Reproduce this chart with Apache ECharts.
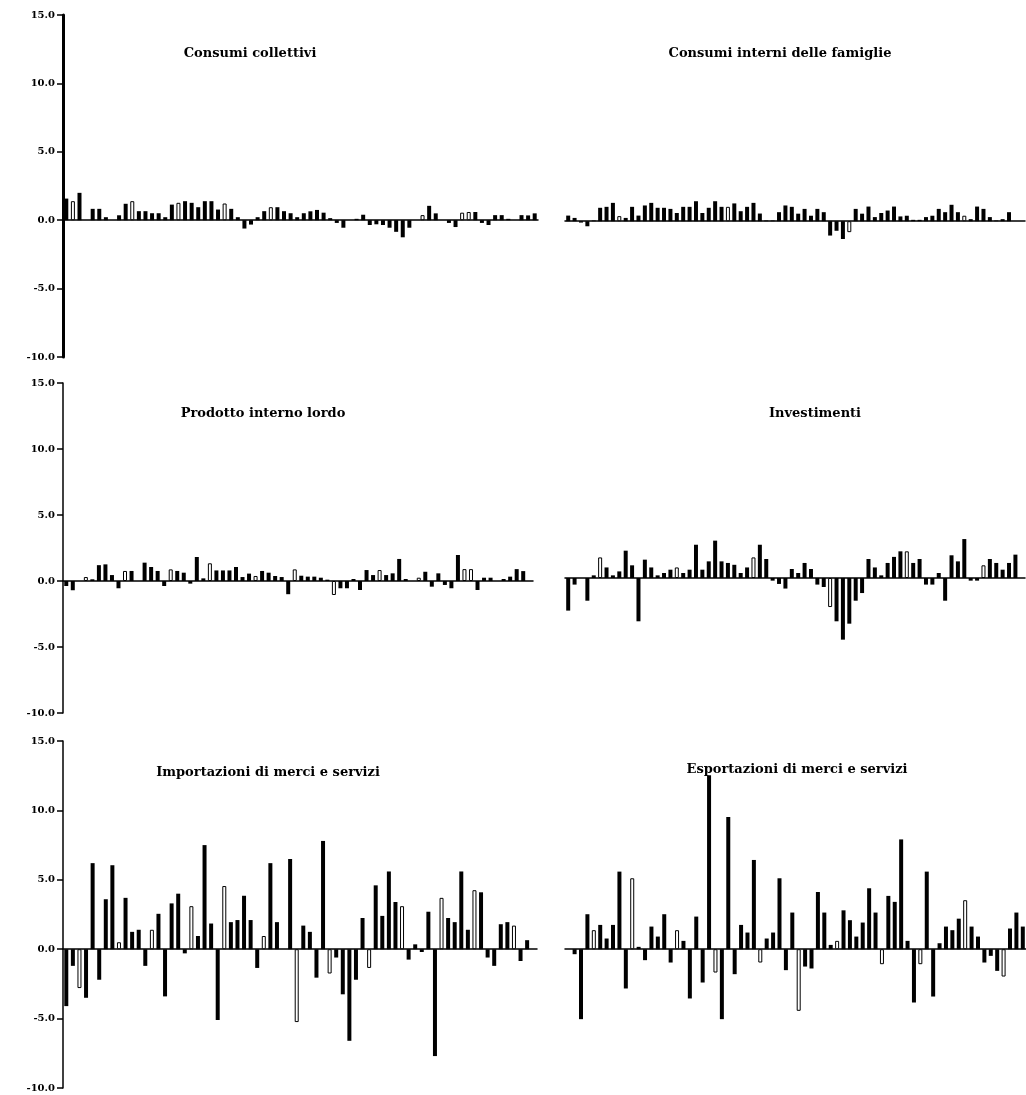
<!DOCTYPE html>
<html><head><meta charset="utf-8">
<script src="https://cdn.jsdelivr.net/npm/echarts@6/dist/echarts.min.js"></script>
<style>html,body{margin:0;padding:0;background:#fff}#c{width:1026px;height:1095px}</style>
</head><body><div id="c"></div>
<script>
// 72 quarterly periods
const quarters = ['T1','T2','T3','T4'];
const categories = [];
for (let y = 0; y < 18; y++) for (let q = 0; q < 4; q++) categories.push((1982 + y) + ' ' + quarters[q]);

const yTickLabels = {'-10': '-10.0', '-5': '-5.0', '0': '0.0', '5': '5.0', '10': '10.0', '15': '15.0'};

const titleCollettivi = 'Consumi collettivi';
const titleFamiglie = 'Consumi interni delle famiglie';
const titlePil = 'Prodotto interno lordo';
const titleInvestimenti = 'Investimenti';
const titleImport = 'Importazioni di merci e servizi';
const titleExport = 'Esportazioni di merci e servizi';

const consumiCollettivi = [1.58,1.39,2.0,0,0.83,0.83,0.22,0,0.36,1.2,
  1.39,0.66,0.66,0.51,0.51,0.22,1.14,1.27,1.39,1.27,
  0.95,1.39,1.39,0.78,1.22,0.83,0.22,-0.61,-0.32,0.22,
  0.66,0.95,0.95,0.66,0.51,0.22,0.51,0.65,0.75,0.55,
  0.15,-0.2,-0.55,0,0.1,0.4,-0.35,-0.3,-0.35,-0.55,
  -0.85,-1.25,-0.55,0,0.37,1.05,0.5,0,-0.2,-0.5,
  0.55,0.6,0.6,-0.2,-0.35,0.37,0.37,0.1,0,0.37,
  0.35,0.5];
const hollowCollettivi = [2,11,18,25,32,55,61,62];

const consumiFamiglie = [0.41,0.24,-0.1,-0.37,0.05,0.98,1.05,1.34,0.37,0.24,
  1.05,0.41,1.15,1.34,0.98,0.98,0.9,0.6,1.05,1.05,
  1.46,0.6,0.98,1.46,1.05,1.05,1.3,0.73,1.05,1.34,
  0.56,0.05,0.05,0.66,1.15,1.05,0.55,0.9,0.4,0.9,
  0.66,-1.05,-0.7,-1.3,-0.8,0.9,0.55,1.07,0.3,0.6,
  0.78,1.07,0.35,0.4,0.1,0.1,0.3,0.4,0.9,0.66,
  1.2,0.66,0.4,0.15,1.07,0.9,0.3,0.05,0.15,0.66,
  0,0];
const hollowFamiglie = [9,26,45,63];

const pil = [-0.38,-0.7,0,0.3,0.13,1.2,1.26,0.45,-0.55,0.76,
  0.76,0,1.39,1.06,0.76,-0.38,0.88,0.76,0.63,-0.2,
  1.82,0.2,1.34,0.8,0.8,0.8,1.06,0.3,0.56,0.38,
  0.76,0.63,0.38,0.3,-1.0,0.88,0.4,0.33,0.33,0.25,
  0.1,-1.06,-0.55,-0.55,0.15,-0.68,0.83,0.45,0.83,0.45,
  0.58,1.67,0.15,0,0.25,0.7,-0.43,0.58,-0.3,-0.55,
  1.97,0.9,0.9,-0.68,0.25,0.25,0,0.15,0.33,0.9,
  0.75,0];
const hollowPil = [4,10,17,23,30,36,42,49,55,62,63];

const investimenti = [-2.47,-0.5,0,-1.72,0.2,1.56,0.8,0.2,0.5,2.07,
  0.96,-3.28,1.39,0.8,0.2,0.38,0.63,0.8,0.38,0.63,
  2.52,0.63,1.26,2.83,1.26,1.14,1.0,0.38,0.8,1.56,
  2.52,1.44,-0.2,-0.45,-0.8,0.68,0.38,1.14,0.68,-0.5,
  -0.68,-2.2,-3.28,-4.67,-3.46,-1.72,-1.14,1.44,0.8,0.2,
  1.14,1.6,2.02,2.02,1.14,1.44,-0.5,-0.5,0.38,-1.72,
  1.72,1.26,2.95,-0.2,-0.2,0.96,1.44,1.14,0.63,1.14,
  1.77,0];
const hollowInvestimenti = [6,18,30,42,54,66];

const importazioni = [-4.1,-1.2,-2.8,-3.5,6.2,-2.2,3.6,6.05,0.5,3.7,
  1.25,1.4,-1.2,1.4,2.55,-3.4,3.3,4.0,-0.3,3.1,
  0.95,7.5,1.85,-5.1,4.55,1.95,2.1,3.85,2.1,-1.35,
  0.95,6.2,1.95,0,6.5,-5.25,1.7,1.25,-2.05,7.8,
  -1.75,-0.6,-3.25,-6.6,-2.2,2.25,-1.35,4.6,2.4,5.6,
  3.4,3.1,-0.75,0.35,-0.2,2.7,-7.7,3.7,2.25,1.95,
  5.6,1.4,4.25,4.1,-0.6,-1.2,1.8,1.95,1.7,-0.85,
  0.65,0];
const hollowImport = [3,9,14,20,25,31,36,41,47,52,58,63,69];

const esportazioni = [0,-0.36,-5.04,2.52,1.37,1.75,0.77,1.75,5.59,-2.83,
  5.11,0.17,-0.79,1.63,0.91,2.52,-0.96,1.37,0.6,-3.55,
  2.35,-2.4,12.54,-1.68,-5.04,9.52,-1.8,1.75,1.2,6.43,
  -0.96,0.77,1.2,5.11,-1.51,2.64,-4.44,-1.25,-1.39,4.12,
  2.64,0.31,0.6,2.8,2.09,0.91,1.92,4.39,2.64,-1.08,
  3.84,3.41,7.91,0.6,-3.84,-1.08,5.59,-3.41,0.43,1.63,
  1.37,2.2,3.53,1.63,0.91,-0.96,-0.48,-1.56,-1.97,1.49,
  2.64,1.63];
const hollowExport = [5,11,18,24,31,37,43,50,56,63,69];

const panels = [
  {title: titleCollettivi, values: consumiCollettivi, hollow: hollowCollettivi},
  {title: titleFamiglie, values: consumiFamiglie, hollow: hollowFamiglie},
  {title: titlePil, values: pil, hollow: hollowPil},
  {title: titleInvestimenti, values: investimenti, hollow: hollowInvestimenti},
  {title: titleImport, values: importazioni, hollow: hollowImport},
  {title: titleExport, values: esportazioni, hollow: hollowExport}
];

const grids = [
  {left: 63, width: 475, top: 15, height: 342},
  {left: 565, width: 460, top: 16, height: 342},
  {left: 63, width: 470, top: 383, height: 330},
  {left: 565, width: 460, top: 380, height: 330},
  {left: 63, width: 474, top: 741, height: 347},
  {left: 565, width: 463, top: 741, height: 347}
];
const titlePos = [
  {x: 245, y: 42}, {x: 775, y: 42},
  {x: 258, y: 402}, {x: 810, y: 402},
  {x: 263, y: 761}, {x: 792, y: 758}
];
const axisWidths = [3, 0, 1.5, 0, 1.5, 0];

const font = 'DejaVu Serif';
const option = {
  backgroundColor: '#fff',
  animation: false,
  title: panels.map((p, i) => ({
    text: p.title, left: titlePos[i].x, top: titlePos[i].y, textAlign: 'center',
    textStyle: {fontFamily: font, fontWeight: 'bold', fontSize: 13, color: '#000'}
  })),
  grid: grids,
  xAxis: panels.map((p, i) => ({
    type: 'category', gridIndex: i, data: categories,
    axisLine: {onZero: true, lineStyle: {color: '#000', width: 1.5}},
    axisTick: {show: false}, axisLabel: {show: false}, splitLine: {show: false}
  })),
  yAxis: panels.map((p, i) => ({
    type: 'value', gridIndex: i, min: -10, max: 15, interval: 5,
    show: i % 2 === 0,
    axisLine: {show: true, lineStyle: {color: '#000', width: axisWidths[i]}},
    axisTick: {show: true, length: 6, lineStyle: {color: '#000', width: 1.5}},
    axisLabel: {margin: 8, fontFamily: font, fontWeight: 'bold', fontSize: 10, color: '#000',
      formatter: v => yTickLabels[String(v)]},
    splitLine: {show: false}
  })),
  series: panels.map((p, i) => ({
    type: 'bar', xAxisIndex: i, yAxisIndex: i, barWidth: 4,
    itemStyle: {color: '#000'},
    data: p.values.map((v, k) => p.hollow.indexOf(k + 1) >= 0
      ? {value: v, itemStyle: {color: '#fff', borderColor: '#000', borderWidth: 1}}
      : v)
  }))
};
const chart = echarts.init(document.getElementById('c'));
chart.setOption(option);
</script>
</body></html>
